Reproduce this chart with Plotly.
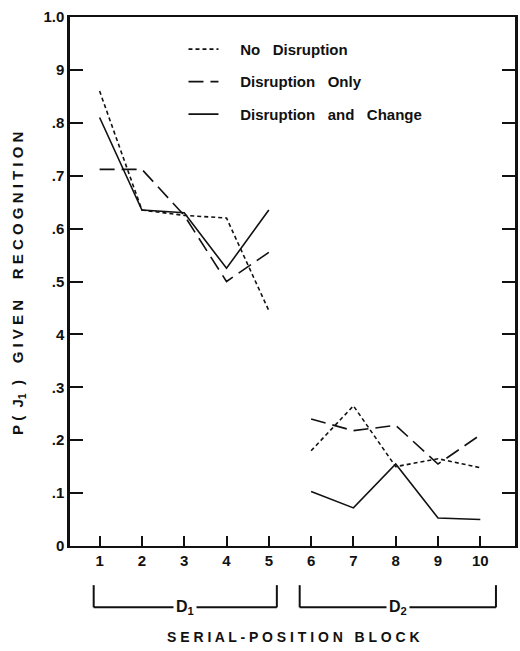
import plotly.graph_objects as go

# Serial-position blocks and P(J1) values for each condition
blocks = [1, 2, 3, 4, 5, 6, 7, 8, 9, 10]
no_disruption = [0.86, 0.635, 0.625, 0.62, 0.445, 0.18, 0.265, 0.15, 0.165, 0.148]
disruption_only = [0.712, 0.712, 0.625, 0.50, 0.555, 0.24, 0.218, 0.228, 0.155, 0.21]
disruption_change = [0.81, 0.635, 0.63, 0.525, 0.635, 0.103, 0.072, 0.155, 0.053, 0.05]

y_ticks = [0, 0.1, 0.2, 0.3, 0.4, 0.5, 0.6, 0.7, 0.8, 0.9, 1.0]
y_tick_text = ["0", ".1", ".2", ".3", "4", ".5", ".6", ".7", ".8", "9", "1.0"]

# Block groups shown as brackets under the axis: (first, last, label)
groups = [(0.86, 5.19, "D<sub>1</sub>"), (5.73, 10.37, "D<sub>2</sub>")]

INK = "#111111"
FONT = "Liberation Sans, Arial, sans-serif"
SP = "&nbsp;"
NB = "\u00a0"

fig = go.Figure()

series = [
    (NB * 4 + "No" + NB * 3 + "Disruption", no_disruption, "4px,3px"),
    (NB * 4 + "Disruption" + NB * 3 + "Only", disruption_only, "15px,7px"),
    (NB * 4 + "Disruption" + NB * 3 + "and" + NB * 3 + "Change", disruption_change, "solid"),
]
for name, vals, dash in series:
    # D1 blocks (1-5) and D2 blocks (6-10) are drawn as separate segments
    fig.add_trace(go.Scatter(
        x=blocks[:5], y=vals[:5], mode="lines", name=name,
        legendgroup=name, showlegend=True,
        line=dict(color=INK, width=1.6, dash=dash),
    ))
    fig.add_trace(go.Scatter(
        x=blocks[5:], y=vals[5:], mode="lines", name=name,
        legendgroup=name, showlegend=False,
        line=dict(color=INK, width=1.6, dash=dash),
    ))

shapes = []
annotations = []
y_top, y_bot = -0.074, -0.116
for x0, x1, label in groups:
    for xv in (x0, x1):
        shapes.append(dict(type="line", xref="x", yref="paper", x0=xv, x1=xv,
                           y0=y_top, y1=y_bot, line=dict(color=INK, width=2)))
    shapes.append(dict(type="line", xref="x", yref="paper", x0=x0, x1=x1,
                       y0=y_bot, y1=y_bot, line=dict(color=INK, width=2)))
    annotations.append(dict(
        x=(x0 + x1) / 2, y=y_bot, xref="x", yref="paper", text=label,
        showarrow=False, bgcolor="white", borderpad=2,
        font=dict(family=FONT, size=16, color=INK, weight="bold"),
        yanchor="middle",
    ))

annotations.append(dict(
    x=0.503, y=-0.172, xref="paper", yref="paper",
    text="S E R I A L - P O S I T I O N" + SP * 3 + "B L O C K",
    showarrow=False, yanchor="middle",
    font=dict(family=FONT, size=14, color=INK, weight="bold"),
))
annotations.append(dict(
    x=-0.117, y=0.497, xref="paper", yref="paper",
    text=("P" + SP + "(" + SP * 2 + "J<sub>1</sub>" + SP * 2 + ")" + SP * 4
          + "G I V E N" + SP * 5 + "R E C O G N I T I O N"),
    showarrow=False, textangle=-90, xanchor="center", yanchor="middle",
    font=dict(family=FONT, size=15, color=INK, weight="bold"),
))

fig.update_layout(
    width=520, height=651,
    margin=dict(l=70, r=2, t=17, b=105),
    paper_bgcolor="white", plot_bgcolor="white",
    font=dict(family=FONT, size=14, color=INK),
    shapes=shapes, annotations=annotations,
    legend=dict(
        x=0.255, y=0.97, xanchor="left", yanchor="top",
        bgcolor="rgba(0,0,0,0)", tracegroupgap=10,
        font=dict(family=FONT, size=15, color=INK, weight="bold"),
    ),
)
fig.update_xaxes(
    range=[0.3, 10.82], tickvals=blocks, ticktext=[str(b) for b in blocks],
    ticks="inside", ticklen=10, tickwidth=1.5, tickcolor=INK,
    showline=True, linecolor=INK, linewidth=2, mirror=True,
    showgrid=False, zeroline=False,
    tickfont=dict(family=FONT, size=15, color=INK, weight="bold"),
)
fig.update_yaxes(
    range=[0, 1.0], tickvals=y_ticks, ticktext=y_tick_text,
    ticks="inside", ticklen=13, tickwidth=1.5, tickcolor=INK,
    showline=True, linecolor=INK, linewidth=2.5, mirror="ticks",
    showgrid=False, zeroline=False,
    tickfont=dict(family=FONT, size=15, color=INK, weight="bold"),
)

fig.write_html("out.html")
